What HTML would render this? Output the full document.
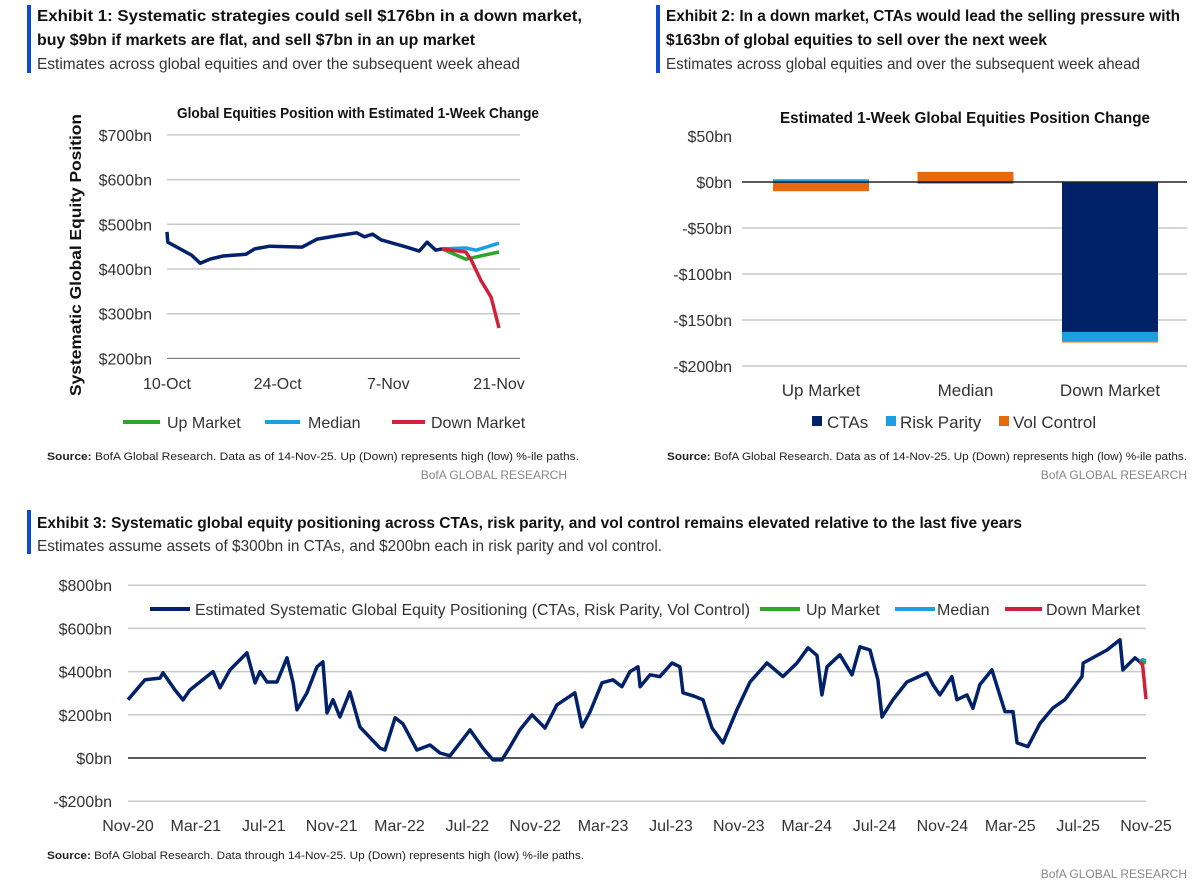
<!DOCTYPE html>
<html><head><meta charset="utf-8"><style>
html,body{margin:0;padding:0;background:#fff;}
svg{display:block;font-family:"Liberation Sans",sans-serif;}
</style></head><body>
<svg id="s" width="1200" height="885" viewBox="0 0 1200 885" xmlns="http://www.w3.org/2000/svg">
<g>
<rect x="27" y="5" width="4" height="68" fill="#0a4bd1"/>
<text x="37" y="21" font-size="16" font-weight="bold" fill="#111" textLength="545" lengthAdjust="spacingAndGlyphs">Exhibit 1: Systematic strategies could sell $176bn in a down market,</text>
<text x="37" y="45" font-size="16" font-weight="bold" fill="#111" textLength="438" lengthAdjust="spacingAndGlyphs">buy $9bn if markets are flat, and sell $7bn in an up market</text>
<text x="37" y="69" font-size="16" fill="#333" textLength="483" lengthAdjust="spacingAndGlyphs">Estimates across global equities and over the subsequent week ahead</text>
</g>
<g>
<rect x="656" y="5" width="4" height="68" fill="#0a4bd1"/>
<text x="666" y="21" font-size="16" font-weight="bold" fill="#111" textLength="514" lengthAdjust="spacingAndGlyphs">Exhibit 2: In a down market, CTAs would lead the selling pressure with</text>
<text x="666" y="45" font-size="16" font-weight="bold" fill="#111" textLength="381" lengthAdjust="spacingAndGlyphs">$163bn of global equities to sell over the next week</text>
<text x="666" y="69" font-size="16" fill="#333" textLength="474" lengthAdjust="spacingAndGlyphs">Estimates across global equities and over the subsequent week ahead</text>
</g>
<g>
<rect x="27" y="510" width="4" height="44" fill="#0a4bd1"/>
<text x="37" y="528" font-size="16" font-weight="bold" fill="#111" textLength="985" lengthAdjust="spacingAndGlyphs">Exhibit 3: Systematic global equity positioning across CTAs, risk parity, and vol control remains elevated relative to the last five years</text>
<text x="37" y="551" font-size="16" fill="#333" textLength="625" lengthAdjust="spacingAndGlyphs">Estimates assume assets of $300bn in CTAs, and $200bn each in risk parity and vol control.</text>
</g>
<g id="c1"></g>
<g id="c2"></g>
<g id="c3"></g>
<g font-size="11" fill="#222">
<text x="47" y="460" textLength="532" lengthAdjust="spacingAndGlyphs"><tspan font-weight="bold">Source:</tspan> BofA Global Research.  Data as of 14-Nov-25. Up (Down) represents high (low) %-ile paths.</text>
<text x="567" y="479" text-anchor="end" fill="#888" font-size="12">BofA GLOBAL RESEARCH</text>
<text x="667" y="460" textLength="520" lengthAdjust="spacingAndGlyphs"><tspan font-weight="bold">Source:</tspan> BofA Global Research.  Data as of 14-Nov-25. Up (Down) represents high (low) %-ile paths.</text>
<text x="1187" y="479" text-anchor="end" fill="#888" font-size="12">BofA GLOBAL RESEARCH</text>
<text x="47" y="859" textLength="537" lengthAdjust="spacingAndGlyphs"><tspan font-weight="bold">Source:</tspan> BofA Global Research.  Data through 14-Nov-25. Up (Down) represents high (low) %-ile paths.</text>
<text x="1187" y="878" text-anchor="end" fill="#888" font-size="12">BofA GLOBAL RESEARCH</text>
</g>
</svg>
<script>
// ---- Chart 1 data (days since 10-Oct, $bn) ----
const c1Ticks = [200,300,400,500,600,700];
const c1XLabels = ["10-Oct","24-Oct","7-Nov","21-Nov"];
const c1XDays = [0,14,28,42];
const c1HistDays = [0,0.1,3.1,4.2,5.4,7.1,10,11.1,13,17.1,19,21.4,24,25,26,27.1,30.3,31.9,32.9,34,34.8];
const c1HistVals = [483,460,431,413,422,429,433,445,451,449,467,474,481,472,478,465,449,440,460,442,445];
const c1MedDays = [34.8,37.8,39.1,40.4,42];
const c1MedVals = [445,447,442,449,458];
const c1UpDays = [34.8,37.8,39.1,42];
const c1UpVals = [445,422,427,438];
const c1DownDays = [34.8,37.8,38.5,39.7,41,42];
const c1DownVals = [445,438,420,375,337,268];
// ---- Chart 2 data ----
const c2Cats = ["Up Market","Median","Down Market"];
const c2CTAs = [-1,-1.5,-163];
const c2RP = [3,0.5,-10];
const c2VC = [-9,10.5,-1.5];
const c2Ticks = [50,0,-50,-100,-150,-200];
// ---- Chart 3 data (months since Nov-20, $bn) ----
const c3XLabels = ["Nov-20","Mar-21","Jul-21","Nov-21","Mar-22","Jul-22","Nov-22","Mar-23","Jul-23","Nov-23","Mar-24","Jul-24","Nov-24","Mar-25","Jul-25","Nov-25"];
const c3Ticks = [800,600,400,200,0,-200];
const c3M = [0,1.0,1.89,2.06,2.77,3.24,3.65,5.01,5.42,6.01,7.01,7.49,7.78,8.19,8.78,9.37,9.73,9.96,10.55,11.14,11.49,11.73,12.08,12.49,13.08,13.67,14.85,15.15,15.74,16.21,17.03,17.8,18.39,18.98,20.16,20.92,21.51,22.04,22.51,23.1,23.81,24.58,25.28,26.34,26.76,27.23,27.94,28.58,29.11,29.59,30.06,30.18,30.77,31.35,32.06,32.53,32.71,33.3,33.89,34.42,35.07,35.89,36.66,37.66,38.6,39.43,40.08,40.61,40.9,41.2,41.96,42.67,43.14,43.73,44.2,44.44,45.09,45.91,47.09,47.44,47.85,48.56,48.86,49.45,49.8,50.21,50.92,51.69,52.16,52.4,53.04,53.75,54.52,55.22,56.23,56.3,57.7,58.47,58.64,59.35,59.64];
const c3V = [270,362,370,395,315,269,315,400,325,408,487,348,400,352,352,464,348,223,302,422,445,209,270,190,306,144,46,37,186,158,37,60,23,10,130,46,-9,-9,51,130,200,139,246,302,144,213,348,362,330,400,422,330,385,377,440,422,302,288,270,139,70,223,352,440,377,440,510,475,292,422,478,385,515,500,362,190,270,352,394,340,292,377,270,292,230,340,408,215,215,70,53,160,232,270,377,440,500,547,408,464,445];
const c3MedM = [59.64,59.8,60];
const c3MedV = [445,455,450];
const c3UpM = [59.64,59.8,60];
const c3UpV = [445,445,440];
const c3DownM = [59.64,59.8,60];
const c3DownV = [445,430,272];

const NS="http://www.w3.org/2000/svg";
function mk(parent,tag,attrs,txt){const e=document.createElementNS(NS,tag);for(const k in attrs)e.setAttribute(k,attrs[k]);if(txt!==undefined)e.textContent=txt;parent.appendChild(e);return e;}
function fmt(v){return (v<0?"-$"+(-v):"$"+v)+"bn";}
function pathD(xs,ys,fx,fy){return xs.map((x,i)=>(i?"L":"M")+fx(x).toFixed(1)+","+fy(ys[i]).toFixed(1)).join("");}

// Chart 1
(function(){
 const g=document.getElementById("c1");
 const x=d=>167+d*(499-167)/42, y=v=>269-(v-400)*0.447;
 mk(g,"text",{x:358,y:118,"text-anchor":"middle","font-size":"15","font-weight":"bold",fill:"#111",textLength:362,lengthAdjust:"spacingAndGlyphs"},"Global Equities Position with Estimated 1-Week Change");
 c1Ticks.forEach(t=>{
  const l=mk(g,"line",{x1:167,x2:520,y1:y(t),y2:y(t),stroke:t===200?"#666":"#c8c8c8","stroke-width":t===200?1:1.5});
  
  
  const tx=mk(g,"text",{x:152,y:y(t)+6,"text-anchor":"end","font-size":"16",fill:"#333"},fmt(t));
  
  
 });
 c1XLabels.forEach((s,i)=>{
  const tx=mk(g,"text",{x:x(c1XDays[i]),y:389,"text-anchor":"middle","font-size":"16",fill:"#333"},s);
  
  
 });
 const yt=mk(g,"text",{x:0,y:0,transform:"translate(81,255) rotate(-90)","text-anchor":"middle","font-size":"16","font-weight":"bold",fill:"#111",textLength:282,lengthAdjust:"spacingAndGlyphs"},"Systematic Global Equity Position");
 
 
 const series=[[c1HistDays,c1HistVals,"#012169","c1-history-line"],[c1MedDays,c1MedVals,"#1aa0e0","c1-median-line"],[c1UpDays,c1UpVals,"#2ea52e","c1-up-line"],[c1DownDays,c1DownVals,"#d0213c","c1-down-line"]];
 series.forEach(s=>{
  const p=mk(g,"path",{d:pathD(s[0],s[1],x,y),fill:"none",stroke:s[2],"stroke-width":3.5,"stroke-linejoin":"round"});
  
  
 });
 const leg=[[123,160,167,"#2ea52e","Up Market"],[265,300,308,"#1aa0e0","Median"],[392,425,431,"#d0213c","Down Market"]];
 leg.forEach(L=>{
  const e=mk(g,"g",{});
  
  
  mk(e,"line",{x1:L[0],x2:L[1],y1:422,y2:422,stroke:L[3],"stroke-width":4});
  mk(e,"text",{x:L[2],y:428,"font-size":"16",fill:"#333"},L[4]);
 });
})();

// Chart 2
(function(){
 const g=document.getElementById("c2");
 const y=v=>182-v*0.92;
 const cx=i=>821+i*144.5, bw=96;
 mk(g,"text",{x:965,y:123,"text-anchor":"middle","font-size":"16","font-weight":"bold",fill:"#111",textLength:370,lengthAdjust:"spacingAndGlyphs"},"Estimated 1-Week Global Equities Position Change");
 c2Ticks.forEach(t=>{
  if(t!==0&&t!==50){const l=mk(g,"line",{x1:742,x2:1187,y1:y(t),y2:y(t),stroke:"#c8c8c8","stroke-width":1.5});
  
  }
  const tx=mk(g,"text",{x:732,y:y(t)+6,"text-anchor":"end","font-size":"16",fill:"#333"},fmt(t));
  
  
 });
 const cols=[["#012169",c2CTAs,"cta"],["#1aa0e0",c2RP,"risk-parity"],["#e8680c",c2VC,"vol-control"]];
 c2Cats.forEach((c,i)=>{
  let pos=0,neg=0;
  cols.forEach(cl=>{
   const v=cl[1][i];let y0,y1;
   if(v>=0){y0=pos;y1=pos+v;pos=y1;}else{y0=neg;y1=neg+v;neg=y1;}
   const r=mk(g,"rect",{x:cx(i)-bw/2,y:Math.min(y(y0),y(y1)),width:bw,height:Math.abs(y(y0)-y(y1)),fill:cl[0]});
   
   
  });
  const tx=mk(g,"text",{x:cx(i),y:396,"text-anchor":"middle","font-size":"17",fill:"#333"},c);
  
  
 });
 const z=mk(g,"line",{x1:742,x2:1187,y1:182,y2:182,stroke:"#222","stroke-width":1.5});
 
 
 const leg=[[812,827,"#012169","CTAs"],[886,900,"#1aa0e0","Risk Parity"],[999,1013,"#e8680c","Vol Control"]];
 leg.forEach(L=>{
  const e=mk(g,"g",{});
  
  
  mk(e,"rect",{x:L[0],y:416,width:10,height:10,fill:L[2]});
  mk(e,"text",{x:L[1],y:428,"font-size":"17",fill:"#333"},L[3]);
 });
})();

// Chart 3
(function(){
 const g=document.getElementById("c3");
 const x=m=>128+m*(1146-128)/60, y=v=>758-v*0.216;
 c3Ticks.forEach(t=>{
  if(t!==0){const l=mk(g,"line",{x1:128,x2:1146,y1:y(t),y2:y(t),stroke:"#c8c8c8","stroke-width":1.5});
  
  }
  const tx=mk(g,"text",{x:112,y:y(t)+6,"text-anchor":"end","font-size":"16",fill:"#333"},fmt(t));
  
  
 });
 const z=mk(g,"line",{x1:128,x2:1146,y1:758,y2:758,stroke:"#222","stroke-width":1.5});
 
 
 c3XLabels.forEach((s,i)=>{
  const tx=mk(g,"text",{x:x(i*4),y:831,"text-anchor":"middle","font-size":"16",fill:"#333"},s);
  
  
 });
 const series=[[c3M,c3V,"#012169","c3-positioning-line"],[c3MedM,c3MedV,"#1aa0e0","c3-median-line"],[c3UpM,c3UpV,"#2ea52e","c3-up-line"],[c3DownM,c3DownV,"#d0213c","c3-down-line"]];
 series.forEach(s=>{
  const p=mk(g,"path",{d:pathD(s[0],s[1],x,y),fill:"none",stroke:s[2],"stroke-width":3.5,"stroke-linejoin":"round"});
  
  
 });
 const leg=[[150,190,195,"#012169","Estimated Systematic Global Equity Positioning (CTAs, Risk Parity, Vol Control)",555],[760,800,806,"#2ea52e","Up Market",0],[895,935,937,"#1aa0e0","Median",0],[1005,1042,1046,"#d0213c","Down Market",0]];
 leg.forEach(L=>{
  const e=mk(g,"g",{});
  
  
  mk(e,"rect",{x:L[0]-4,y:598,width:(L[2]-L[0])+(L[5]||L[4].length*8.6)+8,height:22,fill:"#fff"});
  mk(e,"line",{x1:L[0],x2:L[1],y1:609,y2:609,stroke:L[3],"stroke-width":4});
  const a={x:L[2],y:615,"font-size":"16",fill:"#333"};
  if(L[5]){a.textLength=L[5];a.lengthAdjust="spacingAndGlyphs";}
  mk(e,"text",a,L[4]);
 });
})();
</script>
</body></html>
